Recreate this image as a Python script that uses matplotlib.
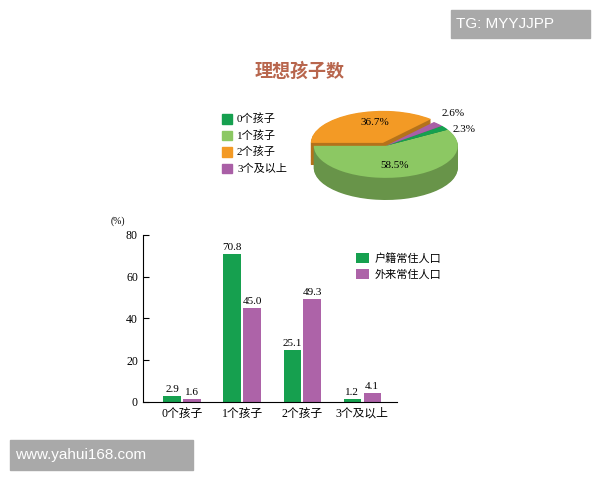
import numpy as np
import matplotlib
matplotlib.use('Agg')
import matplotlib.pyplot as plt
from matplotlib.patches import Rectangle
from matplotlib.colors import to_rgb

plt.rcParams['font.family'] = ['Liberation Serif', 'Noto Sans CJK SC', 'DejaVu Sans']

# data
categories = ['0个孩子', '1个孩子', '2个孩子', '3个及以上']
huji = [2.9, 70.8, 25.1, 1.2]
wailai = [1.6, 45.0, 49.3, 4.1]
series_names = ['户籍常住人口', '外来常住人口']

pie_labels = ['0个孩子', '1个孩子', '2个孩子', '3个及以上']
pie_vals = [2.3, 58.5, 36.7, 2.6]

c_green = '#16a04f'
c_purple = '#ad63a8'
pie_colors = ['#16a04f', '#8cc863', '#f39a25', '#a95fa6']

fig = plt.figure(figsize=(6, 4.8), dpi=100)
fig.patch.set_facecolor('white')

# title
fig.text(0.5, 0.852, '理想孩子数', ha='center', va='center', fontsize=13,
         fontweight='bold', color='#b8664d', family=['Noto Sans CJK SC'])

# ---- pie (pseudo 3D) ----
pax = fig.add_axes([0.511, 0.576, 0.264, 0.197])
# order counterclockwise: 1个, 0个, 3个, 2个
order = [1, 0, 3, 2]
vals = [pie_vals[i] for i in order]
cols = [pie_colors[i] for i in order]
explode = [0, 0, 0, 0.1]
dark = [tuple(np.array(to_rgb(c)) * 0.74) for c in cols]
for d in np.linspace(0.69, 0.02, 28):
    pax.pie(vals, colors=dark, startangle=180, center=(0, -d), radius=1,
            explode=explode, frame=True, wedgeprops=dict(linewidth=0))
pax.pie(vals, colors=cols, startangle=180, center=(0, 0), radius=1,
        explode=explode, frame=True, wedgeprops=dict(linewidth=0))
pax.set_xlim(-1.1, 1.1)
pax.set_ylim(-1.8, 1.15)
pax.set_aspect('auto')
pax.axis('off')

pax.text(-0.15, 0.72, '%.1f%%' % pie_vals[2], ha='center', va='center', fontsize=8)
pax.text(0.12, -0.6, '%.1f%%' % pie_vals[1], ha='center', va='center', fontsize=8)
pax.text(0.78, 1.0, '%.1f%%' % pie_vals[3], ha='left', va='center', fontsize=8)
pax.text(0.93, 0.5, '%.1f%%' % pie_vals[0], ha='left', va='center', fontsize=8)

# pie legend
for i, lab in enumerate(pie_labels):
    y = 1 - (119 + i * 16.5) / 480
    fig.patches.append(Rectangle((222 / 600, y - 4.5 / 480), 10 / 600, 9 / 480,
                                 transform=fig.transFigure, color=pie_colors[i]))
    fig.text(237 / 600, y, lab, ha='left', va='center', fontsize=8)

# ---- bar chart ----
ax = fig.add_axes([0.238, 0.1625, 0.423, 0.348])
x = np.arange(len(categories))
w = 0.29
b1 = ax.bar(x - 0.165, huji, w, color=c_green, label=series_names[0])
b2 = ax.bar(x + 0.165, wailai, w, color=c_purple, label=series_names[1])
for bars, vals_ in ((b1, huji), (b2, wailai)):
    for r, v in zip(bars, vals_):
        ax.text(r.get_x() + r.get_width() / 2, v + 1, '%.1f' % v,
                ha='center', va='bottom', fontsize=8)
ax.set_xlim(-0.65, 3.57)
ax.set_ylim(0, 80)
ax.set_yticks([0, 20, 40, 60, 80])
ax.set_xticks(x)
ax.set_xticklabels(categories)
ax.tick_params(axis='y', direction='in', length=4, labelsize=8.5, width=0.8)
ax.tick_params(axis='x', length=0, labelsize=8.5, pad=4)
for s in ['top', 'right']:
    ax.spines[s].set_visible(False)
for s in ['left', 'bottom']:
    ax.spines[s].set_linewidth(0.8)
ax.text(-0.1, 1.07, '(%)', transform=ax.transAxes, fontsize=7, ha='center')
ax.legend(loc='upper left', bbox_to_anchor=(0.8, 0.95), frameon=False,
          fontsize=8, handlelength=1.2, handleheight=1.0, handletextpad=0.5,
          labelspacing=0.4)

# watermark boxes
fig.patches.append(Rectangle((451 / 600, 1 - 38 / 480), 139 / 600, 28 / 480,
                             transform=fig.transFigure, color='#a9a9a9'))
fig.text(456 / 600, 1 - 24 / 480, 'TG: MYYJJPP', color='white', fontsize=11,
         va='center', ha='left', family=['Liberation Sans'])
fig.patches.append(Rectangle((10 / 600, 1 - 470 / 480), 183 / 600, 30 / 480,
                             transform=fig.transFigure, color='#a9a9a9'))
fig.text(15 / 600, 1 - 455 / 480, 'www.yahui168.com', color='white', fontsize=11,
         va='center', ha='left', family=['Liberation Sans'])

fig.savefig('out.png', dpi=100)
